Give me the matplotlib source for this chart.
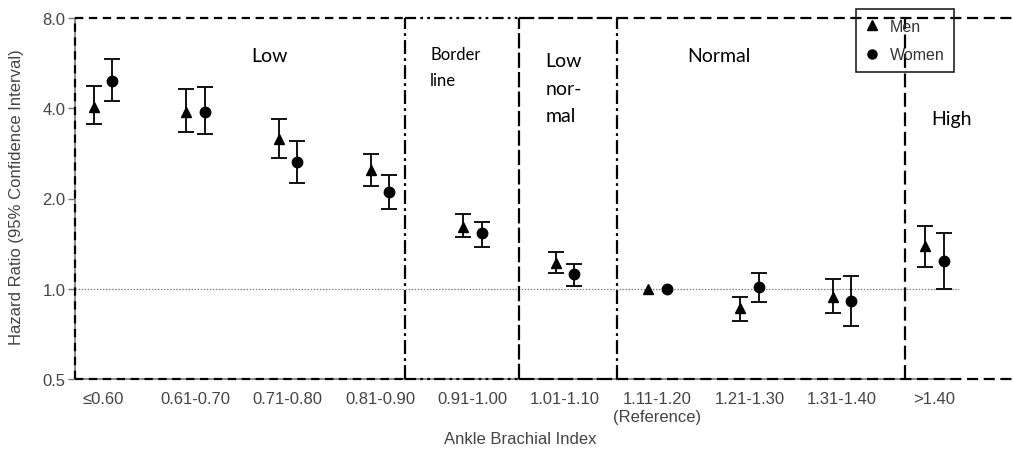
import matplotlib
matplotlib.use('Agg')
import matplotlib.pyplot as plt
from matplotlib.lines import Line2D
import numpy as np

plt.rcParams['lines.scale_dashes'] = False

# ABI categories
categories = ['\u22640.60', '0.61-0.70', '0.71-0.80', '0.81-0.90', '0.91-1.00',
              '1.01-1.10', '1.11-1.20\n(Reference)', '1.21-1.30', '1.31-1.40', '>1.40']

# hazard ratios and 95% CI (reference group has no CI)
men_hr = [4.05, 3.90, 3.16, 2.49, 1.61, 1.22, 1.00, 0.86, 0.94, 1.39]
men_lo = [3.54, 3.33, 2.74, 2.20, 1.49, 1.13, np.nan, 0.78, 0.83, 1.18]
men_hi = [4.75, 4.63, 3.68, 2.82, 1.78, 1.33, np.nan, 0.94, 1.08, 1.62]

women_hr = [4.93, 3.90, 2.64, 2.10, 1.54, 1.12, 1.00, 1.01, 0.91, 1.24]
women_lo = [4.24, 3.28, 2.25, 1.84, 1.38, 1.02, np.nan, 0.90, 0.75, 1.00]
women_hi = [5.83, 4.70, 3.10, 2.39, 1.67, 1.21, np.nan, 1.13, 1.10, 1.53]

# ABI groups
group_names = ['Low', 'Border\nline', 'Low\nnor-\nmal', 'Normal', 'High']

yticks = [0.5, 1.0, 2.0, 4.0, 8.0]

W, H = 1013, 452
fig = plt.figure(figsize=(W / 100, H / 100), dpi=100)
ax = fig.add_axes([75 / W, 1 - 380 / H, (W - 75) / W, (380 - 19) / H])

x = np.arange(len(categories))
off = 0.1
xmin, xmax = -0.303, 9.85

def draw(xs, hr, lo, hi, marker, ms):
    hr = np.array(hr); lo = np.array(lo); hi = np.array(hi)
    ok = ~np.isnan(lo)
    ax.errorbar(xs[ok], hr[ok], yerr=[hr[ok] - lo[ok], hi[ok] - hr[ok]], fmt='none',
                ecolor='#111111', elinewidth=1.4, capsize=6, capthick=1.4, zorder=4)
    ax.plot(xs, hr, linestyle='none', marker=marker, ms=ms, color='black', zorder=5)

draw(x - off, men_hr, men_lo, men_hi, '^', 7)
draw(x + off, women_hr, women_lo, women_hi, 'o', 7.5)

ax.set_yscale('log', base=2)
ax.set_ylim(0.5, 8.0)
ax.set_xlim(xmin, xmax)
ax.set_yticks(yticks)
ax.set_yticklabels(['%.1f' % v for v in yticks])
ax.minorticks_off()
ax.set_xticks(x)
ax.set_xticklabels(categories)
ax.tick_params(axis='x', length=0, pad=9, labelsize=12, labelcolor='#444444')
ax.tick_params(axis='y', length=5, width=1, color='#777777', pad=2, labelsize=12, labelcolor='#444444')
for t in ax.get_xticklabels() + ax.get_yticklabels():
    t.set_family('Liberation Sans')
for s in ['top', 'right', 'bottom']:
    ax.spines[s].set_visible(False)
ax.spines['left'].set_color('#777777')
ax.spines['left'].set_linewidth(1.2)

# solid x axis line and reference line
ax.plot([xmin, 9.25], [0.5, 0.5], color='#777777', lw=1.2, clip_on=False, zorder=2)
ax.plot([xmin, 9.27], [1.0, 1.0], color='#777777', lw=0.9, ls=(0, (1, 1.2)), zorder=1)

# dashed group boxes
k = dict(color='black', lw=1.6, clip_on=False, zorder=3)
dash = (0, (6, 4))
dashdot = (0, (10, 3, 2, 3))
longdash = (0, (11, 3))
ax.plot([xmin, xmin], [0.5, 8.0], ls=dash, **k)
ax.plot([xmin, 3.27], [8.0, 8.0], ls=dash, **k)
ax.plot([xmin, 3.27], [0.5, 0.5], ls=dash, **k)
ax.plot([3.27, 4.50], [8.0, 8.0], ls=(0, (8, 3, 2, 3, 2, 3)), **k)
ax.plot([3.27, 4.50], [0.5, 0.5], ls=(0, (8, 3, 2, 3, 2, 3)), **k)
ax.plot([4.50, 5.56], [8.0, 8.0], ls=longdash, **k)
ax.plot([4.50, 5.56], [0.5, 0.5], ls=longdash, **k)
ax.plot([5.56, xmax], [8.0, 8.0], ls=(0, (8, 4)), **k)
ax.plot([5.56, xmax], [0.5, 0.5], ls=(0, (8, 4)), **k)
ax.plot([3.27, 3.27], [0.5, 8.0], ls=dashdot, **k)
ax.plot([4.50, 4.50], [0.5, 8.0], ls=longdash, **k)
ax.plot([5.56, 5.56], [0.5, 8.0], ls=dashdot, **k)
ax.plot([8.68, 8.68], [0.5, 8.0], ls=(0, (10, 4)), **k)

# group labels
lab = dict(family='Lato', color='black', ha='left', va='center')
ax.text(1.61, 6.0, group_names[0], fontsize=14, **lab)
ax.text(3.54, 5.5, group_names[1], fontsize=12, linespacing=1.8, **lab)
ax.text(4.79, 4.66, group_names[2], fontsize=14, linespacing=1.75, **lab)
ax.text(6.32, 6.0, group_names[3], fontsize=14, **lab)
ax.text(8.97, 3.7, group_names[4], fontsize=14, **lab)

fig.text(520 / W, 1 - 440 / H, 'Ankle Brachial Index', ha='center', va='center',
         fontsize=12, color='#444444', family='Liberation Sans')
fig.text(17 / W, 1 - 197 / H, 'Hazard Ratio (95% Confidence Interval)', rotation=90,
         ha='center', va='center', fontsize=12, color='#444444', family='Liberation Sans')

handles = [Line2D([], [], ls='none', marker='^', ms=6.5, color='black'),
           Line2D([], [], ls='none', marker='o', ms=6.5, color='black')]
leg = fig.legend(handles, ['Men', 'Women'], loc='upper left',
                 bbox_to_anchor=(856 / W, 1 - 10 / H), bbox_transform=fig.transFigure,
                 borderaxespad=0, fancybox=False, edgecolor='#222222', facecolor='none',
                 handlelength=0.8, handletextpad=0.7, labelspacing=0.85, borderpad=0.6,
                 prop={'family': 'Liberation Sans', 'size': 11.5})
leg.get_frame().set_alpha(None)
leg.get_frame().set_facecolor('none')
leg.get_frame().set_edgecolor('#222222')
leg.get_frame().set_linewidth(1.2)
for t in leg.get_texts():
    t.set_color('#333333')

plt.savefig('out.png', dpi=100)
